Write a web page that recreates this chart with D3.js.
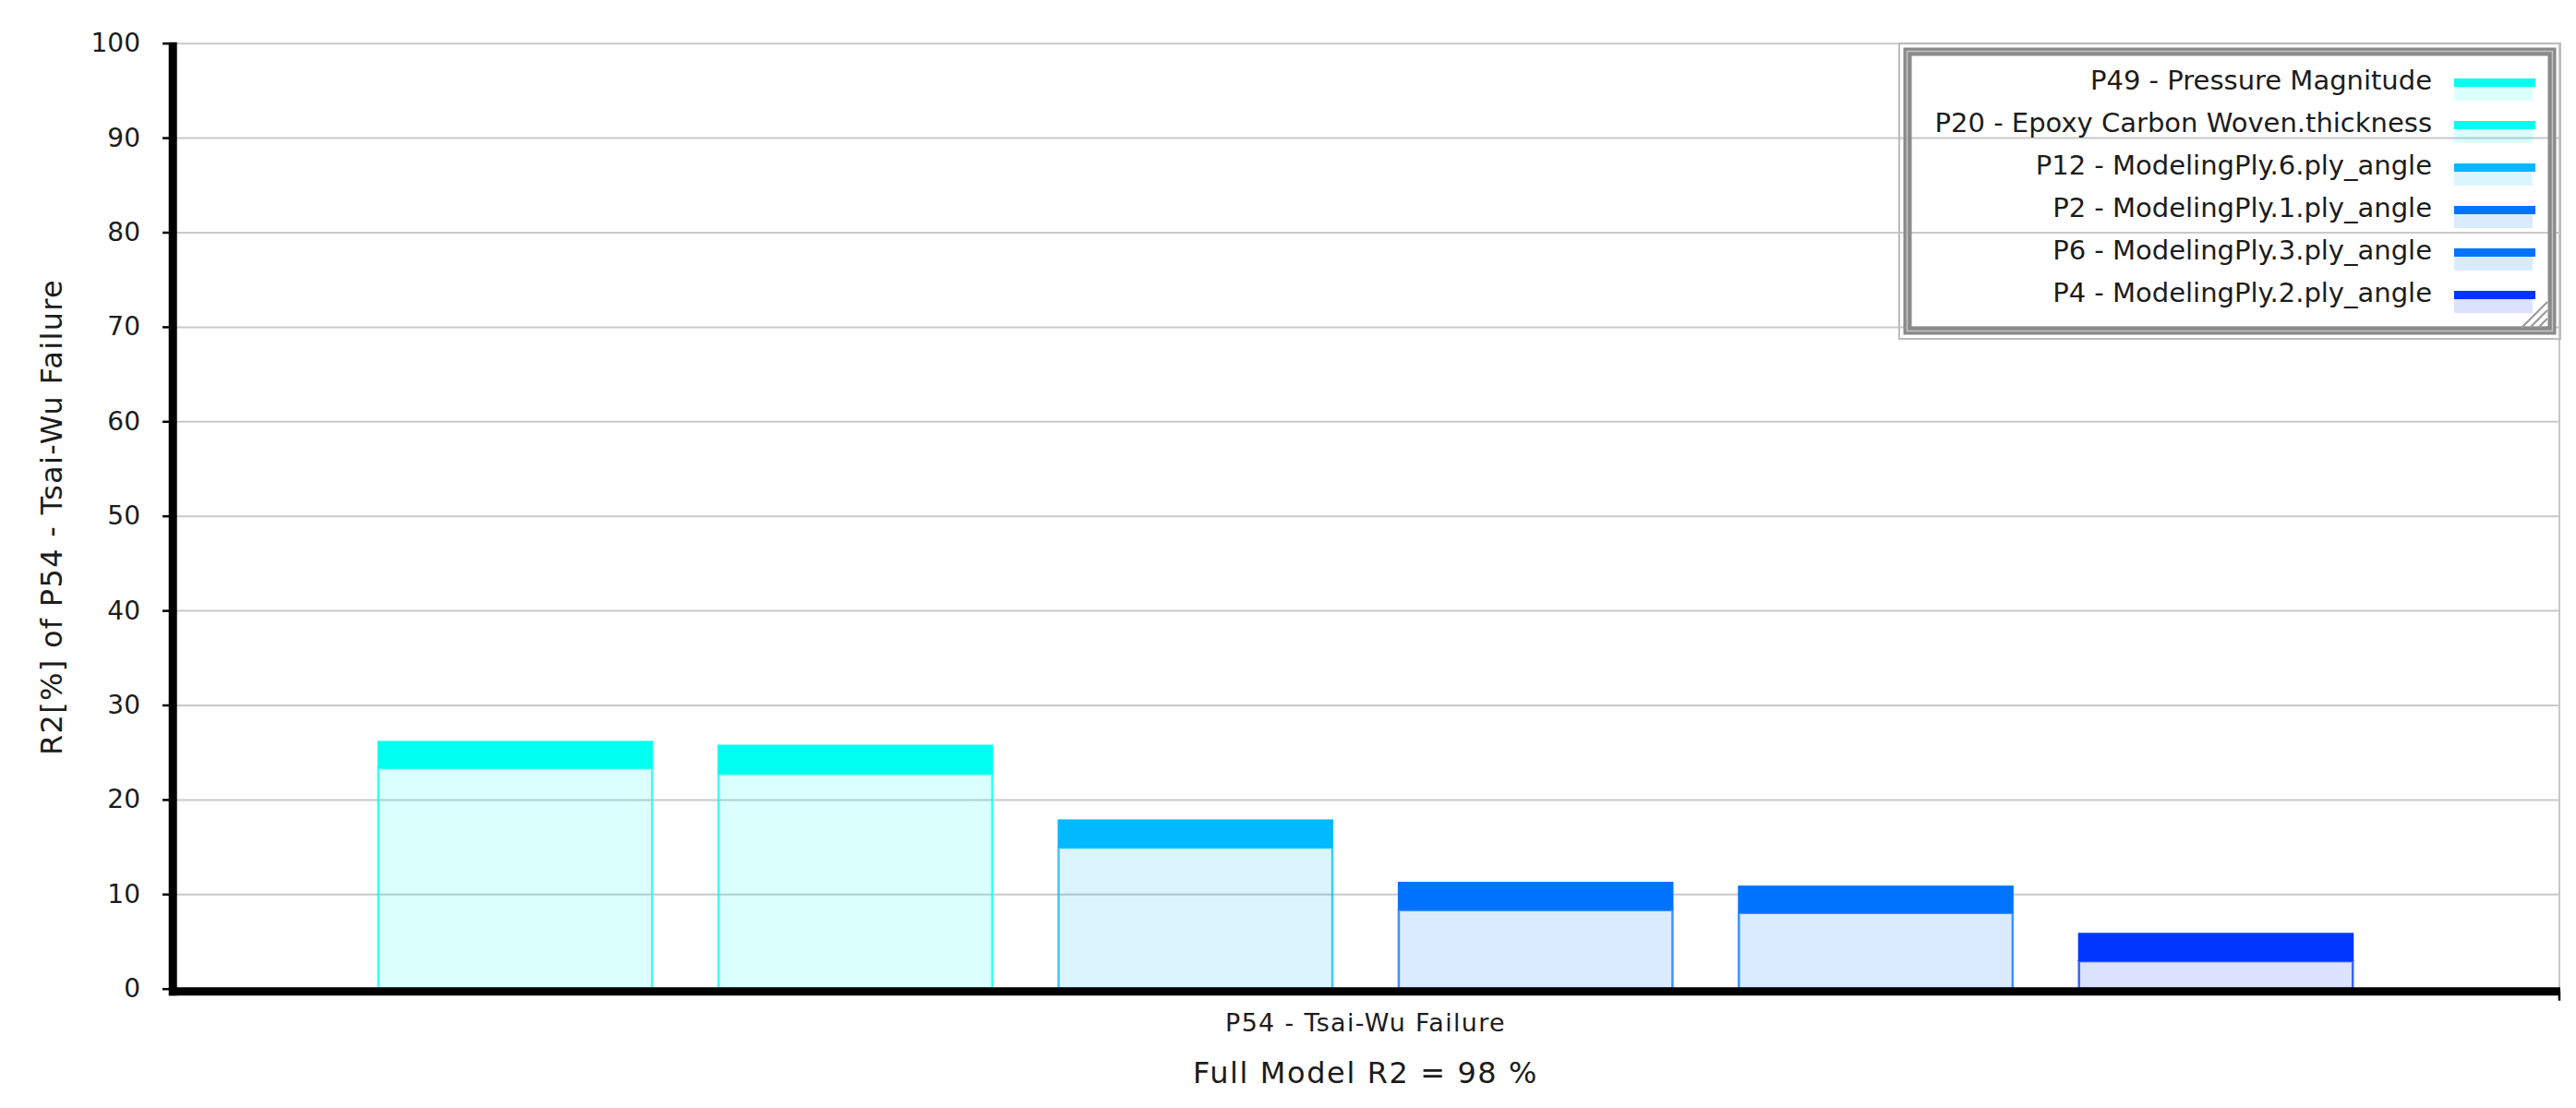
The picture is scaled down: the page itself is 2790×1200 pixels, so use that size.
<!DOCTYPE html>
<html>
<head>
<meta charset="utf-8">
<script src="https://cdn.jsdelivr.net/npm/d3@7"></script>
<style>
  body { margin: 0; background: #fff; }
  text { font-family: "DejaVu Sans", sans-serif; fill: #1c1c1c; }
</style>
</head>
<body>
<script>
// terms of the determination histogram, in drawing order
var terms = ['P49 - Pressure Magnitude',
             'P20 - Epoxy Carbon Woven.thickness',
             'P12 - ModelingPly.6.ply_angle',
             'P2 - ModelingPly.1.ply_angle',
             'P6 - ModelingPly.3.ply_angle',
             'P4 - ModelingPly.2.ply_angle'];
// top of each bar and top of its light part (R2 %)
var totalR2 = [26.2, 25.8, 17.9, 11.3, 10.9, 5.9];
var baseR2  = [23.3, 22.7, 14.9, 8.3, 8.0, 2.9];
var termColors = ['#00fff0', '#00fff0', '#00b9ff', '#0073ff', '#0073ff', '#0035ff'];

var yTicks   = [0, 10, 20, 30, 40, 50, 60, 70, 80, 90, 100];
var category = 'P54 - Tsai-Wu Failure';
var yTitle   = 'R2[%] of P54 - Tsai-Wu Failure';
var footnote = 'Full Model R2 = 98 %';

var WIDTH = 2790, HEIGHT = 1200;
var LEFT = 188, RIGHT = 2770, TOP = 46.7, BOTTOM = 1070.7;

var svg = d3.select('body').append('svg')
  .attr('width', WIDTH)
  .attr('height', HEIGHT);

var y = d3.scaleLinear().domain([0, 100]).range([BOTTOM, TOP]);
var x0 = d3.scaleBand().domain([category]).range([LEFT, RIGHT]);
var x1 = d3.scaleBand().domain(terms)
  .range([x0(category), x0(category) + x0.bandwidth()])
  .paddingInner(0.195)
  .paddingOuter(0.602);

// gridlines
var grid = svg.append('g')
  .attr('transform', 'translate(' + LEFT + ',0)')
  .call(d3.axisLeft(y).tickValues(yTicks).tickSize(-(RIGHT + 2 - LEFT)).tickFormat(''));
grid.select('.domain').remove();
grid.selectAll('line').attr('stroke', '#c8c8c8').attr('stroke-width', 2);

// right border
svg.append('line')
  .attr('x1', RIGHT + 2).attr('x2', RIGHT + 2)
  .attr('y1', TOP).attr('y2', BOTTOM + 4)
  .attr('stroke', '#c8c8c8').attr('stroke-width', 2);

// bars: light lower part + saturated top band
var bars = svg.append('g').selectAll('g')
  .data(terms)
  .enter()
  .append('g');

bars.append('rect')
  .attr('x', function(d){ return x1(d); })
  .attr('y', function(d, i){ return y(baseR2[i]); })
  .attr('width', x1.bandwidth())
  .attr('height', function(d, i){ return y(0) - y(baseR2[i]); })
  .attr('fill', function(d, i){ return termColors[i]; })
  .attr('fill-opacity', 0.14)
  .attr('stroke', function(d, i){ return termColors[i]; })
  .attr('stroke-opacity', 0.75)
  .attr('stroke-width', 2.5);

bars.append('rect')
  .attr('x', function(d){ return x1(d) - 1; })
  .attr('y', function(d, i){ return y(totalR2[i]); })
  .attr('width', x1.bandwidth() + 2)
  .attr('height', function(d, i){ return y(baseR2[i]) - y(totalR2[i]); })
  .attr('fill', function(d, i){ return termColors[i]; });

// legend
var LX = 2057, LY = 47, LW = 716, LH = 320;
var legend = svg.append('g');
legend.append('rect')
  .attr('x', LX).attr('y', LY).attr('width', LW).attr('height', LH)
  .attr('fill', 'none').attr('stroke', '#bcbcbc').attr('stroke-width', 2);
legend.append('rect')
  .attr('x', LX + 9).attr('y', LY + 9).attr('width', LW - 18).attr('height', LH - 18)
  .attr('fill', 'none').attr('stroke', '#8a8a8a').attr('stroke-width', 9);
legend.append('rect')
  .attr('x', LX + 8.5).attr('y', LY + 8.5).attr('width', LW - 17).attr('height', LH - 17)
  .attr('fill', 'none').attr('stroke', '#c4c4c4').attr('stroke-width', 1.5);

var rows = legend.selectAll('g.row')
  .data(terms)
  .enter()
  .append('g')
  .attr('class', 'row')
  .attr('transform', function(d, i){ return 'translate(0,' + (97 + i * 46) + ')'; });

rows.append('text')
  .attr('x', 2634)
  .attr('text-anchor', 'end')
  .style('font-size', '29px')
  .text(function(d){ return d; });

rows.append('rect')
  .attr('x', 2658).attr('y', -3).attr('width', 85).attr('height', 15)
  .attr('fill', function(d, i){ return termColors[i]; })
  .attr('fill-opacity', 0.14);

rows.append('rect')
  .attr('x', 2658).attr('y', -12).attr('width', 88).attr('height', 9)
  .attr('fill', function(d, i){ return termColors[i]; });

// resize grip
[0, 9, 18].forEach(function(o){
  legend.append('line')
    .attr('x1', 2759).attr('y1', 327 + o)
    .attr('x2', 2731 + o).attr('y2', 355)
    .attr('stroke', '#9a9a9a').attr('stroke-width', 2.2);
});

// axes
var yAxis = svg.append('g')
  .attr('transform', 'translate(183,0)')
  .call(d3.axisLeft(y).tickValues(yTicks).tickSize(7).tickPadding(24));
yAxis.select('.domain').remove();
yAxis.selectAll('line').attr('stroke', '#000').attr('stroke-width', 2.5);
yAxis.selectAll('text').style('font-size', '28px').attr('fill', '#1c1c1c');

svg.append('line')
  .attr('x1', 187.2).attr('x2', 187.2)
  .attr('y1', TOP - 1).attr('y2', BOTTOM + 7.5)
  .attr('stroke', '#000').attr('stroke-width', 9);
svg.append('line')
  .attr('x1', 183).attr('x2', RIGHT + 3)
  .attr('y1', BOTTOM + 3).attr('y2', BOTTOM + 3)
  .attr('stroke', '#000').attr('stroke-width', 9);
svg.append('line')
  .attr('x1', RIGHT + 2).attr('x2', RIGHT + 2)
  .attr('y1', BOTTOM + 3).attr('y2', BOTTOM + 13)
  .attr('stroke', '#000').attr('stroke-width', 2.5);

var xAxis = svg.append('g')
  .attr('transform', 'translate(0,' + (BOTTOM + 3) + ')')
  .call(d3.axisBottom(x0).tickSize(0).tickPadding(24));
xAxis.select('.domain').remove();
xAxis.selectAll('text')
  .style('font-size', '27px')
  .style('letter-spacing', '1.3px')
  .attr('fill', '#1c1c1c');

// titles
svg.append('text')
  .attr('transform', 'translate(67,560) rotate(-90)')
  .attr('text-anchor', 'middle')
  .style('font-size', '32px')
  .style('letter-spacing', '1.3px')
  .text(yTitle);

svg.append('text')
  .attr('x', (LEFT + RIGHT) / 2)
  .attr('y', 1173)
  .attr('text-anchor', 'middle')
  .style('font-size', '32px')
  .style('letter-spacing', '1.6px')
  .text(footnote);
</script>
</body>
</html>
